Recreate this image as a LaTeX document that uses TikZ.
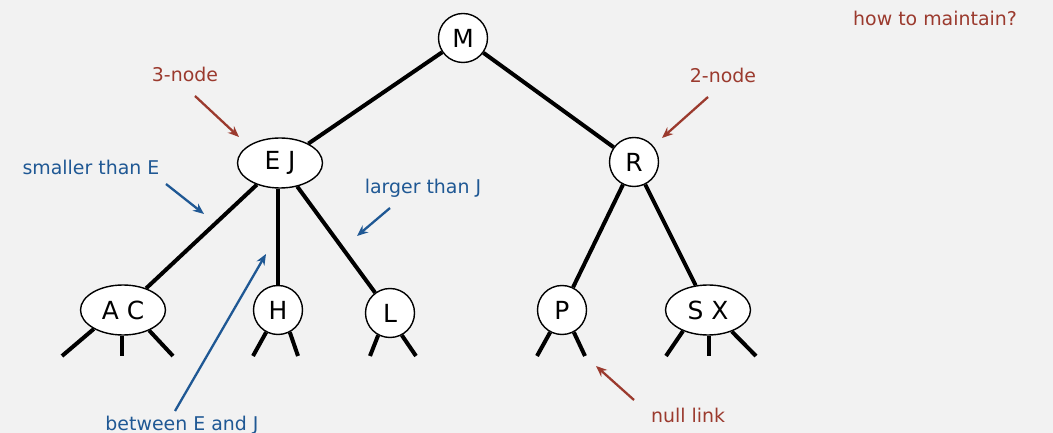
\documentclass[tikz,border=0pt]{standalone}
\usepackage{fontspec}
\setmainfont{DejaVu Sans}
\usetikzlibrary{shapes.geometric,arrows.meta}
\definecolor{bg}{HTML}{F2F2F2}
\definecolor{lred}{HTML}{9B3A2E}
\definecolor{lblue}{HTML}{1F5894}
\begin{document}
\begin{tikzpicture}[x=1bp,y=-1bp,
  keyfont/.style={font=\fontsize{25}{28}\selectfont},
  two/.style={circle,draw=black,line width=1.4bp,fill=white,minimum size=49bp,inner sep=0pt,keyfont},
  three/.style={ellipse,draw=black,line width=1.4bp,fill=white,minimum width=85bp,minimum height=50bp,inner sep=0pt,keyfont},
  link/.style={line width=4bp},
  lab/.style={font=\fontsize{19}{21}\selectfont,anchor=base,inner sep=0pt},
  rlab/.style={lab,text=lred},
  blab/.style={lab,text=lblue},
  rarr/.style={draw=lred,line width=2.3bp,-{Stealth[length=11bp,width=9bp]}},
  barr/.style={draw=lblue,line width=2.3bp,-{Stealth[length=11bp,width=9bp]}}]
\fill[bg] (0,0) rectangle (1053,433);
\useasboundingbox (0,0) rectangle (1053,433);

% tree nodes
\node[two]   (M)  at (463,38)  {M};
\node[three] (EJ) at (280,163) {E J};
\node[two]   (R)  at (634,162) {R};
\node[three] (AC) at (123,310) {A C};
\node[two]   (H)  at (278,310) {H};
\node[two]   (L)  at (390,313) {L};
\node[two]   (P)  at (562,310) {P};
\node[three] (SX) at (708,310) {S X};

% tree links
\draw[link] (M) -- (EJ);
\draw[link] (M) -- (R);
\draw[link] (EJ) -- (AC);
\draw[link] (EJ.south -| H) -- (H);
\draw[link] (EJ) -- (L);
\draw[link] (R) -- (P);
\draw[link] (R) -- (SX);

% null links
\coordinate (acl) at (62,356);
\coordinate (acm) at (122,356);
\coordinate (acr) at (173,356);
\coordinate (hl) at (253,356);
\coordinate (hr) at (298,356);
\coordinate (ll) at (370,356);
\coordinate (lr) at (416,356);
\coordinate (pl) at (537,356);
\coordinate (pr) at (585,356);
\coordinate (sxl) at (666,356);
\coordinate (sxm) at (709,356);
\coordinate (sxr) at (756,356);
\draw[link] (AC.213) -- (acl);
\draw[link] (AC.south -| acm) -- (acm);
\draw[link] (AC.322) -- (acr);
\draw[link] (H.242) -- (hl);
\draw[link] (H.298) -- (hr);
\draw[link] (L.242) -- (ll);
\draw[link] (L.298) -- (lr);
\draw[link] (P.242) -- (pl);
\draw[link] (P.298) -- (pr);
\draw[link] (SX.220) -- (sxl);
\draw[link] (SX.south -| sxm) -- (sxm);
\draw[link] (SX.318) -- (sxr);

% annotations
\node[rlab] (t3) at (185,82) {3-node};
\node[rlab] (t2) at (723,83) {2-node};
\node[blab] (tsm) at (91,175) {smaller than E};
\node[blab] (tlg) at (423,194) {larger than J};
\node[blab] (tbw) at (182,430) {between E and J};
\node[rlab] (tnl) at (688,422) {null link};
\node[rlab,anchor=base west] (thm) at (853,26) {how to maintain?};

\coordinate (a3s) at (195,96);  \coordinate (a3e) at (239,137);
\coordinate (a2s) at (708,97);  \coordinate (a2e) at (662,138);
\coordinate (asms) at (166,184); \coordinate (asme) at (204,214);
\coordinate (algs) at (390,208); \coordinate (alge) at (357,236);
\coordinate (abws) at (175,411); \coordinate (abwe) at (266,254);
\coordinate (anls) at (634,400); \coordinate (anle) at (596,366);
\draw[rarr] (a3s) -- (a3e);
\draw[rarr] (a2s) -- (a2e);
\draw[barr] (asms) -- (asme);
\draw[barr] (algs) -- (alge);
\draw[barr] (abws) -- (abwe);
\draw[rarr] (anls) -- (anle);
\end{tikzpicture}
\end{document}
